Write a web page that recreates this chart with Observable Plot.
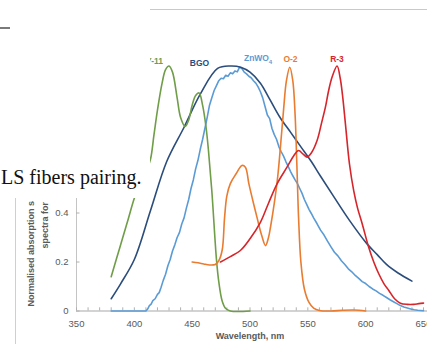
<!DOCTYPE html>
<html>
<head>
<meta charset="utf-8">
<script src="https://cdn.jsdelivr.net/npm/d3@7"></script>
<script src="https://cdn.jsdelivr.net/npm/@observablehq/plot@0.6"></script>
<style>
  html, body { margin: 0; padding: 0; background: #fff; }
  #page { position: relative; width: 427px; height: 344px; overflow: hidden; background: #fff; }
  #page svg { position: absolute; left: 0; top: 0; }
  .cover { position: absolute; left: 0; top: 0; width: 150px; height: 198px; background: #fff; }
  .caption { position: absolute; left: 1px; top: 167px; font: 20px/1 "Liberation Serif", "DejaVu Serif", serif; color: #111; white-space: nowrap; }
  .rule-top { position: absolute; left: 150px; top: 9px; width: 277px; height: 1px; background: #c9c9c9; }
  .dash { position: absolute; left: 0; top: 27px; width: 10px; height: 1.5px; background: #7a7a7a; }
  .rule-left { position: absolute; left: 15px; top: 198px; width: 1px; height: 146px; background: #cfcfcf; }
</style>
</head>
<body>
<div id="page"></div>
<script>
// Wavelength grid labels and value axis ticks
const xLabelTicks = [350, 400, 450, 500, 550, 600, 650];
const xMinorTicks = d3.range(350, 651, 10);
const yTicks = [0, 0.2, 0.4];

// Normalised spectra: [wavelength nm, value]
const y11 = [[380,0.14],[385,0.22],[390,0.30],[395,0.38],[400,0.46],[405,0.52],[410,0.565],[414,0.62],[417,0.72],[420,0.82],[424,0.93],[427,0.985],[430,1.0],[433,0.975],[437,0.87],[440,0.79],[444,0.753],[447,0.78],[450,0.84],[453,0.88],[456,0.89],[459,0.84],[462,0.75],[464,0.66],[467,0.49],[471,0.21],[473,0.12],[476,0.04],[479,0.01],[483,0],[500,0]];
const bgo = [[380,0.05],[388,0.11],[400,0.21],[414,0.41],[428,0.61],[443,0.75],[457,0.885],[472,0.99],[483,1.0],[492,0.995],[500,0.975],[509,0.93],[517,0.865],[526,0.79],[535,0.73],[544,0.67],[553,0.61],[561,0.55],[572,0.47],[586,0.37],[601,0.275],[610,0.23],[618,0.19],[628,0.155],[640,0.122]];
const znwo4 = [[380,0],[395,0],[410,0],[411.5,0.008],[413,0.022],[414.5,0.028],[416,0.042],[418,0.05],[420,0.068],[421.5,0.075],[423,0.095],[425,0.125],[427,0.15],[429,0.185],[431,0.21],[433,0.245],[435,0.27],[437,0.3],[439,0.32],[441,0.355],[443,0.38],[445,0.42],[447,0.455],[449,0.5],[451,0.535],[453,0.58],[455,0.615],[457,0.66],[459,0.7],[461,0.745],[463,0.79],[465,0.84],[467,0.87],[469,0.9],[471,0.92],[473,0.94],[475,0.95],[477,0.948],[479,0.962],[481,0.958],[483,0.972],[485,0.968],[487,0.98],[489,0.976],[491,0.995],[493,0.99],[495,0.975],[497,0.968],[499,0.958],[501,0.952],[503,0.94],[505,0.93],[507,0.915],[509,0.895],[511,0.87],[513,0.835],[515,0.8],[517,0.785],[519,0.745],[521,0.72],[523,0.7],[525,0.67],[527,0.65],[529,0.632],[531,0.61],[533,0.59],[535,0.57],[537,0.552],[539,0.535],[541,0.52],[543,0.5],[545,0.48],[547,0.455],[549,0.435],[551,0.415],[553,0.398],[555,0.38],[558,0.356],[561,0.33],[564,0.31],[567,0.285],[570,0.262],[573,0.24],[576,0.225],[579,0.205],[582,0.19],[585,0.172],[588,0.16],[591,0.145],[594,0.133],[597,0.12],[600,0.112],[603,0.1],[606,0.09],[609,0.082],[612,0.072],[615,0.064],[618,0.055],[621,0.046],[624,0.038],[627,0.03],[630,0.022],[633,0.016],[636,0.012],[639,0.008],[642,0.005],[645,0.003],[650,0.001]];
const o2 = [[450,0.2],[455,0.197],[460,0.192],[465,0.188],[470,0.19],[473,0.205],[476,0.25],[478,0.38],[480,0.47],[483,0.52],[488,0.56],[493,0.594],[496,0.587],[499,0.52],[503,0.44],[506,0.383],[510,0.31],[513.4,0.267],[516,0.3],[518,0.35],[521,0.44],[524,0.55],[526.5,0.68],[529,0.82],[531.5,0.94],[534.4,0.995],[537,0.94],[539,0.8],[540.5,0.6],[542,0.38],[544,0.2],[547,0.09],[551,0.035],[555,0.012],[560,0.002],[570,0],[580,0.003],[590,0.004],[600,0]];
const r3 = [[474.5,0.2],[483,0.222],[491.7,0.247],[500,0.295],[509,0.362],[516,0.44],[523.5,0.52],[532,0.587],[538,0.635],[542,0.655],[546,0.64],[549.4,0.628],[553,0.645],[558,0.696],[562,0.77],[565.2,0.832],[568,0.9],[571,0.955],[575.3,1.0],[578,0.95],[580,0.88],[582.5,0.764],[586,0.6],[589.7,0.49],[593,0.42],[597,0.356],[602.6,0.26],[607,0.2],[611.3,0.152],[616,0.11],[620,0.084],[625,0.05],[630,0.032],[636,0.027],[641.5,0.027],[646,0.03],[650,0.032]];

// Series names, colours and label anchors (wavelength, value)
const seriesNames = ["ZnWO", "BGO", "Y-11", "O-2", "R-3"];
const seriesColors = ["#5b9bd5", "#2b4d7b", "#6f9d48", "#e97c30", "#d6252b"];
const labelX = [505.6, 456.3, 417.4, 535, 575.2];
const labelY = [1.03, 1.013, 1.02, 1.026, 1.026];

const rows = (data, name) => data.map(([x, y]) => ({x, y, name}));
const color = Object.fromEntries(seriesNames.map((n, i) => [n, seriesColors[i]]));
const series = [[znwo4, "ZnWO"], [bgo, "BGO"], [y11, "Y-11"], [o2, "O-2"], [r3, "R-3"]];
const labels = seriesNames.map((name, i) => ({name, x: labelX[i], y: labelY[i]}));

const grey = "#595959";
const chart = Plot.plot({
  width: 427,
  height: 344,
  marginLeft: 76,
  marginRight: 4,
  marginTop: 65.5,
  marginBottom: 33.5,
  style: {background: "transparent", fontFamily: "Liberation Sans, Arial, sans-serif"},
  x: {domain: [350, 650]},
  y: {domain: [0, 1]},
  marks: [
    Plot.ruleY([0], {x1: 350, x2: 654, stroke: "#c4c4c4", strokeWidth: 1.3}),
    Plot.ruleX([350], {y1: 0, y2: 1, stroke: "#c4c4c4", strokeWidth: 1}),
    Plot.ruleX(xMinorTicks, {y1: 0, y2: 0.013, stroke: "#b0b0b0", strokeWidth: 1}),
    Plot.ruleY(yTicks, {x1: 350, x2: 353, stroke: "#b0b0b0", strokeWidth: 1}),
    Plot.axisX({ticks: xLabelTicks, tickSize: 0, tickPadding: 9, fontSize: 9.5, color: grey, label: null}),
    Plot.axisY({ticks: yTicks, tickSize: 0, tickPadding: 8, fontSize: 9.5, color: grey, label: null,
      tickFormat: d => d === 0 ? "0" : d.toFixed(1)}),
    Plot.text(["Wavelength, nm"], {frameAnchor: "bottom", dy: 28, fontSize: 9, fontWeight: "bold", fill: grey}),
    Plot.text(["Normalised absorption s"], {frameAnchor: "bottom-left", dx: -43, dy: -4.5, rotate: -90, textAnchor: "start", fontSize: 9, fontWeight: "bold", fill: grey}),
    Plot.text(["spectra for"], {frameAnchor: "bottom-left", dx: -29, dy: -62.5, rotate: -90, textAnchor: "start", fontSize: 9, fontWeight: "bold", fill: grey}),
    ...series.map(([data, name]) => Plot.line(rows(data, name), {
      x: "x", y: "y", stroke: color[name], strokeWidth: 1.6,
      curve: name === "ZnWO" ? "linear" : "catmull-rom"
    })),
    Plot.text(labels, {x: "x", y: "y", text: "name", fill: d => color[d.name], fontSize: 8.5, fontWeight: "bold"}),
    Plot.text(labels.filter(d => d.name === "ZnWO"), {x: "x", y: "y", text: () => "4", dx: 14, dy: 3, fill: color["ZnWO"], fontSize: 6, fontWeight: "bold"})
  ]
});

const page = document.getElementById("page");
page.appendChild(chart);
page.insertAdjacentHTML("beforeend",
  '<div class="cover"></div>' +
  '<div class="caption">LS fibers pairing.</div>' +
  '<div class="rule-top"></div>' +
  '<div class="dash"></div>' +
  '<div class="rule-left"></div>');
</script>
</body>
</html>
